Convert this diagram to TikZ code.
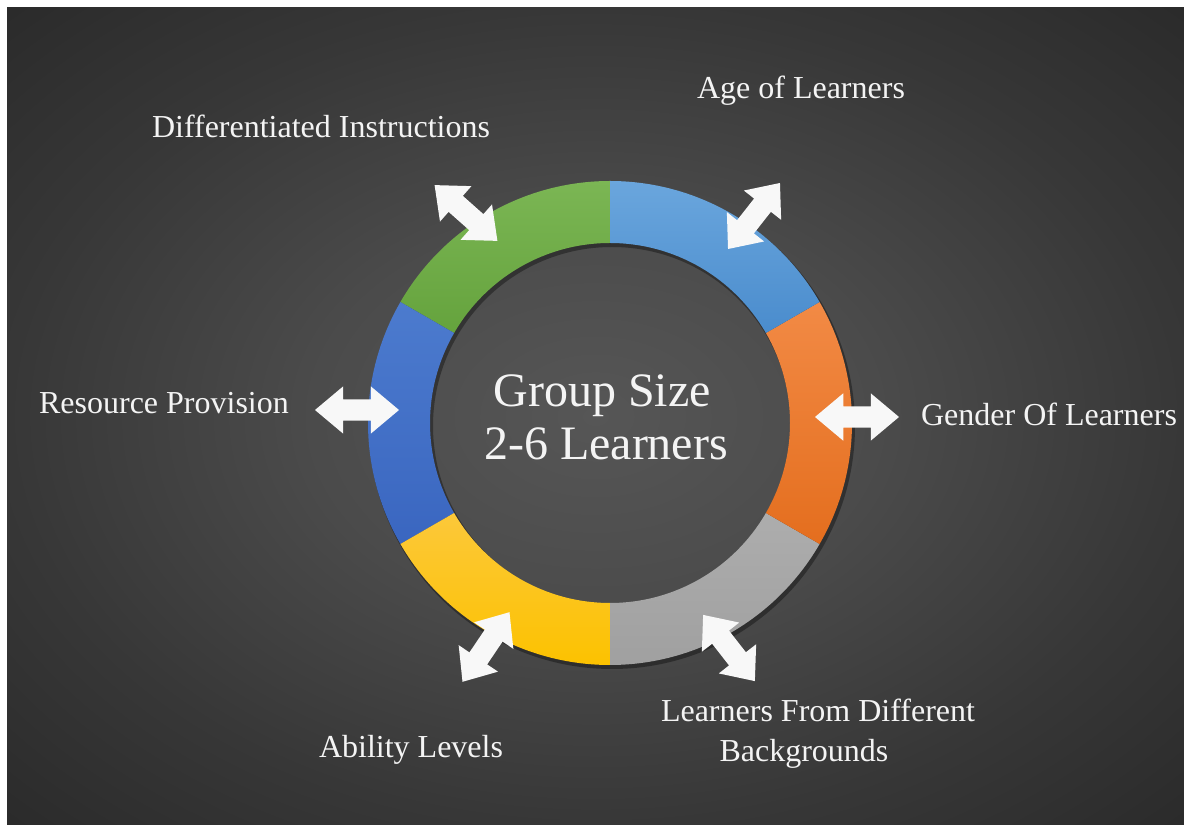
\documentclass[tikz,border=0pt]{standalone}
\usepackage{fontspec}
\setmainfont{Liberation Serif}
\usetikzlibrary{shapes.arrows}

% background and ring colours
\definecolor{glowA}{HTML}{565656}
\definecolor{glowB}{HTML}{4B4B4B}
\definecolor{glowC}{HTML}{373737}
\definecolor{glowD}{HTML}{2A2A2A}
\definecolor{ltblueT}{HTML}{6AA6DD}
\definecolor{ltblueB}{HTML}{4A8CCD}
\definecolor{orangeT}{HTML}{F28A45}
\definecolor{orangeB}{HTML}{E46E1E}
\definecolor{greyT}{HTML}{ADADAD}
\definecolor{greyB}{HTML}{A0A0A0}
\definecolor{yellowT}{HTML}{FCC83A}
\definecolor{yellowB}{HTML}{FCC200}
\definecolor{dkblueT}{HTML}{4C7BCE}
\definecolor{dkblueB}{HTML}{3A66C0}
\definecolor{greenT}{HTML}{7BB654}
\definecolor{greenB}{HTML}{65A33D}
\definecolor{arrowwhite}{HTML}{F8F8F8}
\definecolor{textwhite}{HTML}{F4F4F4}

\pgfdeclareradialshading{backglow}{\pgfpoint{0bp}{0bp}}{%
  color(0bp)=(glowA); color(12bp)=(glowB); color(25bp)=(glowC);
  color(36bp)=(glowD); color(50bp)=(glowD)}

% one coloured sector of the ring: start angle, end angle, top colour, bottom colour
\newcommand\ringsector[4]{%
  \shade[top color=#3, bottom color=#4]
    (#1:242) arc[start angle=#1, end angle=#2, radius=242]
    -- (#2:180) arc[start angle=#2, end angle=#1, radius=180] -- cycle;}

\begin{document}
\begin{tikzpicture}[x=1pt, y=1pt,
  factor/.style={text=textwhite, font=\fontsize{32}{38}\selectfont,
    inner sep=0pt, anchor=base},
  heading/.style={text=textwhite, font=\fontsize{48}{54}\selectfont,
    inner sep=0pt, anchor=base},
  flow/.style={double arrow, fill=arrowwhite, draw=none,
    minimum height=84pt, minimum width=47pt,
    inner xsep=0pt, inner ysep=10.5pt,
    double arrow head extend=13pt, double arrow tip angle=80,
    outer sep=0pt}]

\useasboundingbox (0,0) rectangle (1184,825);
\fill[white] (0,0) rectangle (1184,825);
\shade[shading=backglow] (7,0) rectangle (1184,817);

% the ring of six factors
\begin{scope}[shift={(610,402)}]
  \fill[black, opacity=0.35, even odd rule]
    (2,-3) circle[radius=243] (2,-3) circle[radius=179];
  \ringsector{90}{150}{greenT}{greenB}
  \ringsector{150}{210}{dkblueT}{dkblueB}
  \ringsector{210}{270}{yellowT}{yellowB}
  \ringsector{270}{330}{greyT}{greyB}
  \ringsector{-30}{30}{orangeT}{orangeB}
  \ringsector{30}{90}{ltblueT}{ltblueB}
\end{scope}

% centre text
\node[heading] (grp) at (602,418) {Group Size};
\node[heading] (cnt) at (606,365) {2-6 Learners};

% two-way arrows between the ring and each factor
\node[flow, rotate=-41.6] (adiff) at (466,612) {};
\node[flow, rotate=51.8]  (aage)  at (754,609) {};
\node[flow]               (agen)  at (857,408) {};
\node[flow]               (ares)  at (357,415) {};
\node[flow, rotate=56]    (aabl)  at (486,178) {};
\node[flow, rotate=-52]   (aback) at (729,177) {};

% factor labels
\node[factor] (ldiff) at (321,687) {Differentiated Instructions};
\node[factor] (lage)  at (801,726) {Age of Learners};
\node[factor] (lgen)  at (1049,399) {Gender Of Learners};
\node[factor] (lres)  at (164,411) {Resource Provision};
\node[factor] (labl)  at (411,67) {Ability Levels};
\node[factor] (lbk1)  at (818,103) {Learners From Different};
\node[factor] (lbk2)  at (804,63) {Backgrounds};

\end{tikzpicture}
\end{document}
